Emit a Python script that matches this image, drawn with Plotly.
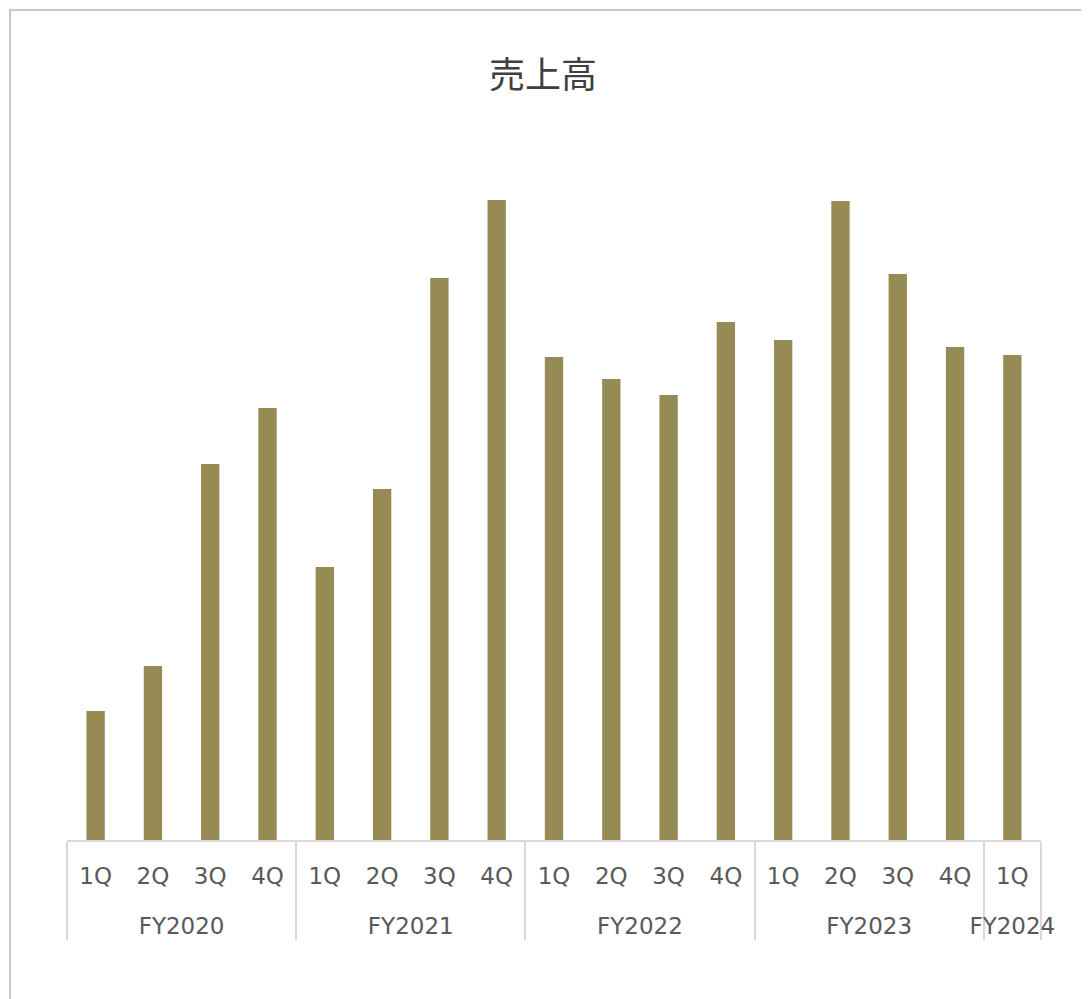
import plotly.graph_objects as go

fiscal_years = ["FY2020"] * 4 + ["FY2021"] * 4 + ["FY2022"] * 4 + ["FY2023"] * 4 + ["FY2024"]
quarters = ["1Q", "2Q", "3Q", "4Q"] * 4 + ["1Q"]
sales = [129, 174, 376, 432, 273, 351, 562, 640, 483, 461, 445, 518, 500, 639, 566, 493, 485]

LABEL_PX = 23
# a blank first line above each year label moves the year row down
year_labels = [f"\u00a0<br><span style='font-size:{LABEL_PX}px'>{y}</span>" for y in fiscal_years]
quarter_labels = [f"<span style='font-size:{LABEL_PX}px'>{q}</span><br>\u00a0" for q in quarters]

W, H = 1089, 999
L, R, T, B = 59, 56, 132, 167
pw, ph = W - L - R, H - T - B

fig = go.Figure()
fig.add_trace(go.Bar(
    x=[year_labels, quarter_labels],
    y=sales,
    marker=dict(color="#978B55", line=dict(width=0)),
    hoverinfo="y",
))

fig.update_layout(
    width=W,
    height=H,
    margin=dict(l=L, r=R, t=T, b=B),
    paper_bgcolor="white",
    plot_bgcolor="white",
    bargap=0.68,
    showlegend=False,
    title=dict(
        text="売上高",
        x=535 / W, xanchor="center",
        y=1 - 67 / H, yanchor="middle",
        font=dict(family="Noto Sans CJK JP", size=36, color="#404040"),
    ),
    font=dict(family="DejaVu Sans", size=17, color="#595959"),
    xaxis=dict(
        type="multicategory",
        showline=True, linecolor="#d9d9d9", linewidth=2,
        showgrid=False, ticks="",
        ticklabelstandoff=22,
        showdividers=True, dividercolor="#d9d9d9", dividerwidth=2,
        tickfont=dict(family="DejaVu Sans", size=17, color="#595959"),
    ),
    yaxis=dict(range=[0, 700], visible=False, showgrid=False, zeroline=False),
    shapes=[dict(
        type="rect", xref="paper", yref="paper",
        x0=(2 - L) / pw, x1=1.3, y0=-0.4, y1=(H - 2 - B) / ph,
        line=dict(color="#c8c8c8", width=2), fillcolor="rgba(0,0,0,0)",
        layer="below",
    )],
)

fig.write_html("out.html")
